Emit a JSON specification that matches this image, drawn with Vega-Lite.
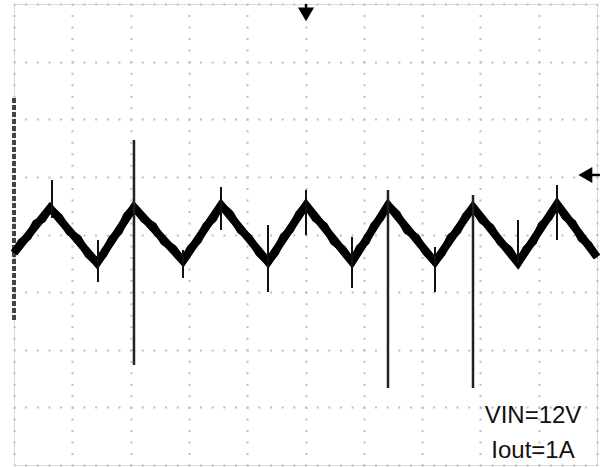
{
  "$schema": "https://vega.github.io/schema/vega-lite/v6.json",
  "autosize": "none",
  "width": 583,
  "height": 461,
  "padding": {"left": 14, "top": 4, "right": 3, "bottom": 2},
  "background": "white",
  "config": {"view": {"stroke": "#dcdcdc", "strokeWidth": 1}},
  "datasets": {
    "core": [
      {"t": 0, "v": -0.321}, {"t": 0.617, "v": 0.46}, {"t": 1.424, "v": -0.495}, {"t": 2.058, "v": 0.477},
      {"t": 2.899, "v": -0.46}, {"t": 3.551, "v": 0.512}, {"t": 4.357, "v": -0.477}, {"t": 5.009, "v": 0.512},
      {"t": 5.798, "v": -0.477}, {"t": 6.415, "v": 0.512}, {"t": 7.221, "v": -0.477}, {"t": 7.873, "v": 0.477},
      {"t": 8.645, "v": -0.495}, {"t": 9.314, "v": 0.529}, {"t": 10, "v": -0.39}
    ],
    "trace": [
      {"t": 0, "v": -0.321}, {"t": 0.123, "v": -0.125}, {"t": 0.247, "v": -0.039}, {"t": 0.37, "v": 0.198}, {"t": 0.494, "v": 0.264}, {"t": 0.617, "v": 0.46},
      {"t": 0.778, "v": 0.309}, {"t": 0.94, "v": 0.048}, {"t": 1.101, "v": -0.063}, {"t": 1.263, "v": -0.344}, {"t": 1.424, "v": -0.495},
      {"t": 1.551, "v": -0.331}, {"t": 1.678, "v": -0.066}, {"t": 1.804, "v": 0.048}, {"t": 1.931, "v": 0.333}, {"t": 2.058, "v": 0.477},
      {"t": 2.226, "v": 0.26}, {"t": 2.394, "v": 0.152}, {"t": 2.563, "v": -0.125}, {"t": 2.731, "v": -0.233}, {"t": 2.899, "v": -0.46},
      {"t": 3.029, "v": -0.226}, {"t": 3.16, "v": -0.111}, {"t": 3.29, "v": 0.153}, {"t": 3.421, "v": 0.268}, {"t": 3.551, "v": 0.512},
      {"t": 3.712, "v": 0.364}, {"t": 3.873, "v": 0.076}, {"t": 4.035, "v": -0.051}, {"t": 4.196, "v": -0.319}, {"t": 4.357, "v": -0.477},
      {"t": 4.487, "v": -0.319}, {"t": 4.618, "v": -0.031}, {"t": 4.748, "v": 0.086}, {"t": 4.879, "v": 0.354}, {"t": 5.009, "v": 0.512},
      {"t": 5.167, "v": 0.274}, {"t": 5.325, "v": 0.156}, {"t": 5.482, "v": -0.131}, {"t": 5.64, "v": -0.249}, {"t": 5.798, "v": -0.477},
      {"t": 5.921, "v": -0.229}, {"t": 6.045, "v": -0.121}, {"t": 6.168, "v": 0.156}, {"t": 6.292, "v": 0.284}, {"t": 6.415, "v": 0.512},
      {"t": 6.576, "v": 0.354}, {"t": 6.737, "v": 0.066}, {"t": 6.899, "v": -0.041}, {"t": 7.06, "v": -0.309}, {"t": 7.221, "v": -0.477},
      {"t": 7.351, "v": -0.316}, {"t": 7.482, "v": -0.045}, {"t": 7.612, "v": 0.055}, {"t": 7.743, "v": 0.326}, {"t": 7.873, "v": 0.477},
      {"t": 8.027, "v": 0.243}, {"t": 8.182, "v": 0.128}, {"t": 8.336, "v": -0.136}, {"t": 8.491, "v": -0.251}, {"t": 8.645, "v": -0.495},
      {"t": 8.779, "v": -0.25}, {"t": 8.913, "v": -0.125}, {"t": 9.046, "v": 0.169}, {"t": 9.18, "v": 0.294}, {"t": 9.314, "v": 0.529},
      {"t": 9.451, "v": 0.305}, {"t": 9.588, "v": 0.201}, {"t": 9.726, "v": -0.072}, {"t": 9.863, "v": -0.176}, {"t": 10, "v": -0.39}
    ],
    "spikes": [
      {"t": 0.652, "v": 0.946, "v2": 0.286},
      {"t": 1.441, "v": -0.095, "v2": -0.824},
      {"t": 2.899, "v": -0.269, "v2": -0.755},
      {"t": 3.551, "v": 0.824, "v2": 0.078},
      {"t": 4.357, "v": 0.165, "v2": -0.998},
      {"t": 5.009, "v": 0.772, "v2": -0.009},
      {"t": 5.798, "v": -0.043, "v2": -0.928},
      {"t": 7.221, "v": -0.217, "v2": -0.998},
      {"t": 8.645, "v": 0.252, "v2": -0.495},
      {"t": 9.314, "v": 0.859, "v2": -0.095}
    ],
    "bigSpikes": [
      {"t": 2.058, "v": 1.64, "v2": -2.265},
      {"t": 6.415, "v": 0.772, "v2": -2.664},
      {"t": 7.873, "v": 0.685, "v2": -2.664}
    ],
    "marker": [{"t": 0, "v": 2.369, "v2": -1.518}],
    "trigStem": [{"t": 5.009, "v": 4.0, "v2": 3.84}],
    "trig": [{"t": 5.009, "v": 3.82}],
    "levelStem": [{"t": 9.88, "t2": 10.05, "v": 1.033}],
    "level": [{"t": 9.8, "v": 1.033}],
    "labels": [
      {"t": 8.902, "v": -3.271, "label": "VIN=12V"},
      {"t": 8.902, "v": -3.878, "label": "Iout=1A"}
    ]
  },
  "encoding": {
    "x": {"field": "t", "type": "quantitative",
      "scale": {"domain": [0, 10], "nice": false, "zero": false},
      "axis": {"values": [0,1,2,3,4,5,6,7,8,9,10], "title": null, "labels": false, "ticks": false, "domain": false,
        "grid": true, "gridColor": "#bdbdbd", "gridWidth": 2, "gridDash": [2, 9.525], "gridDashOffset": 1}},
    "y": {"field": "v", "type": "quantitative",
      "scale": {"domain": [-4, 4], "nice": false, "zero": false},
      "axis": {"values": [-4,-3,-2,-1,0,1,2,3,4], "title": null, "labels": false, "ticks": false, "domain": false,
        "grid": true, "gridColor": "#bdbdbd", "gridWidth": 2, "gridDash": [2, 9.66], "gridDashOffset": 1}}
  },
  "layer": [
    {"data": {"name": "marker"}, "mark": {"type": "rule", "color": "#444444", "strokeWidth": 4, "strokeDash": [5, 2]},
      "encoding": {"y2": {"field": "v2"}}},
    {"data": {"name": "core"}, "mark": {"type": "line", "color": "#000000", "strokeWidth": 8, "strokeJoin": "miter"}},
    {"data": {"name": "trace"}, "mark": {"type": "line", "color": "#000000", "strokeWidth": 7, "strokeJoin": "round"}},
    {"data": {"name": "spikes"}, "mark": {"type": "rule", "color": "#111111", "strokeWidth": 2},
      "encoding": {"y2": {"field": "v2"}}},
    {"data": {"name": "bigSpikes"}, "mark": {"type": "rule", "color": "#222222", "strokeWidth": 2.5},
      "encoding": {"y2": {"field": "v2"}}},
    {"data": {"name": "trigStem"}, "mark": {"type": "rule", "color": "#000000", "strokeWidth": 2.5},
      "encoding": {"y2": {"field": "v2"}}},
    {"data": {"name": "trig"}, "mark": {"type": "point", "shape": "triangle-down", "filled": true, "color": "#000000", "size": 260, "opacity": 1}},
    {"data": {"name": "levelStem"}, "mark": {"type": "rule", "color": "#000000", "strokeWidth": 2.5},
      "encoding": {"x2": {"field": "t2"}}},
    {"data": {"name": "level"}, "mark": {"type": "point", "shape": "triangle-left", "filled": true, "color": "#000000", "size": 260, "opacity": 1}},
    {"data": {"name": "labels"}, "mark": {"type": "text", "font": "Liberation Sans", "fontSize": 24, "color": "#111111", "align": "center", "baseline": "alphabetic"},
      "encoding": {"text": {"field": "label"}}}
  ]
}
